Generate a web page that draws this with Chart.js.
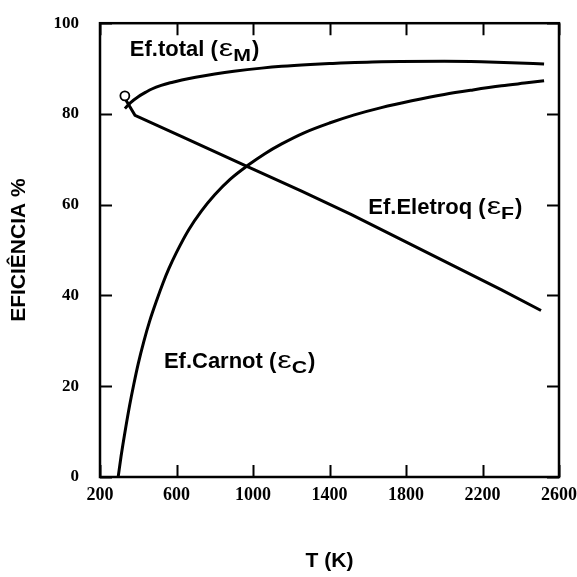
<!DOCTYPE html>
<html>
<head>
<meta charset="utf-8">
<script src="https://cdn.jsdelivr.net/npm/chart.js@4.4.1/dist/chart.umd.min.js"></script>
<style>
  html, body { margin: 0; padding: 0; background: #ffffff; }
  #c { display: block; width: 577px; height: 577px; }
</style>
</head>
<body>
<canvas id="c" width="577" height="577"></canvas>
<script>
// ---- data ----
const xTicks = [200, 600, 1000, 1400, 1800, 2200, 2600];
const yTicks = [0, 20, 40, 60, 80, 100];

const tTotal  = [330, 360, 400, 440, 471, 520, 580, 628, 700, 800, 900, 1045, 1150, 1300, 1400, 1671, 2000, 2193, 2350, 2522];
const efTotal = [81.2, 82.5, 83.8, 84.8, 85.5, 86.3, 87.0, 87.5, 88.1, 88.8, 89.4, 90.1, 90.5, 90.9, 91.1, 91.5, 91.6, 91.5, 91.3, 91.0];

const tEletroq  = [336, 383, 628, 977, 1254, 1515, 2297, 2506];
const efEletroq = [83.0, 79.7, 75.0, 68.3, 63.0, 57.8, 41.3, 36.7];

const tCarnot  = [295, 310, 335, 355, 377, 400, 430, 460, 497, 530, 560, 600, 664, 730, 800, 880, 977, 1060, 1150, 1270, 1400, 1530, 1671, 1830, 2000, 2150, 2300, 2420, 2522];
const efCarnot = [0, 4.5, 11.0, 15.8, 20.5, 25.0, 30.0, 34.4, 39.0, 42.8, 45.9, 49.5, 54.5, 58.6, 62.2, 65.6, 68.8, 71.2, 73.4, 75.9, 78.0, 79.8, 81.4, 82.9, 84.3, 85.3, 86.2, 86.8, 87.3];

const markerT  = [330];
const markerEf = [84.0];

const labelMain = ['Ef.total (', 'Ef.Eletroq (', 'Ef.Carnot ('];
const labelSub  = ['M', 'F', 'C'];
const labelT    = [356, 1603, 534];
const labelEf   = [92.8, 57.9, 24.0];

const xTitle = 'T (K)';
const yTitle = 'EFICIÊNCIA %';

// ---- helpers ----
const pts = (xs, ys) => xs.map((x, i) => ({ x: x, y: ys[i] }));
const SANS = '"Liberation Sans", Arial, Helvetica, sans-serif';
const SERIF = '"Liberation Serif", "Times New Roman", serif';

function stretchText(ctx, txt, x, y, sx) {
  ctx.save();
  ctx.translate(x, y);
  ctx.scale(sx, 1);
  ctx.fillText(txt, 0, 0);
  const w = ctx.measureText(txt).width * sx;
  ctx.restore();
  return w;
}

const framePlugin = {
  id: 'frame',
  afterDatasetsDraw(chart) {
    const ctx = chart.ctx;
    const a = chart.chartArea;
    const xs = chart.scales.x, ys = chart.scales.y;
    const tl = 12;
    ctx.save();
    ctx.strokeStyle = '#000';
    ctx.lineWidth = 2.5;
    ctx.lineCap = 'butt';
    ctx.strokeRect(a.left, a.top, a.right - a.left, a.bottom - a.top);
    ctx.lineWidth = 2;
    ctx.beginPath();
    xTicks.forEach(v => {
      const px = Math.round(xs.getPixelForValue(v)) + 0.5;
      ctx.moveTo(px, a.bottom); ctx.lineTo(px, a.bottom - tl);
      ctx.moveTo(px, a.top); ctx.lineTo(px, a.top + tl);
    });
    yTicks.forEach(v => {
      const py = Math.round(ys.getPixelForValue(v)) + 0.5;
      ctx.moveTo(a.left, py); ctx.lineTo(a.left + tl, py);
      ctx.moveTo(a.right, py); ctx.lineTo(a.right - tl, py);
    });
    ctx.stroke();

    // curve labels
    ctx.fillStyle = '#000';
    ctx.textBaseline = 'alphabetic';
    ctx.textAlign = 'left';
    labelMain.forEach((txt, i) => {
      let x = xs.getPixelForValue(labelT[i]);
      const y = ys.getPixelForValue(labelEf[i]);
      ctx.font = 'bold 22px ' + SANS;
      ctx.fillText(txt, x, y);
      x += ctx.measureText(txt).width + 1;
      ctx.font = '24px ' + SANS;
      x += stretchText(ctx, 'ε', x, y, 1.35);
      ctx.font = 'bold 17px ' + SANS;
      x += stretchText(ctx, labelSub[i], x, y + 5, 1.25) + 1;
      ctx.font = 'bold 22px ' + SANS;
      ctx.fillText(')', x, y);
    });
    ctx.restore();
  }
};

const lineBase = {
  borderColor: '#000',
  backgroundColor: '#000',
  borderWidth: 3,
  pointRadius: 0,
  fill: false,
  showLine: true
};

new Chart(document.getElementById('c'), {
  type: 'scatter',
  data: {
    datasets: [
      Object.assign({ label: 'Ef.total', data: pts(tTotal, efTotal), cubicInterpolationMode: 'monotone' }, lineBase),
      Object.assign({ label: 'Ef.Eletroq', data: pts(tEletroq, efEletroq), tension: 0 }, lineBase),
      Object.assign({ label: 'Ef.Carnot', data: pts(tCarnot, efCarnot), cubicInterpolationMode: 'monotone' }, lineBase),
      { label: 'ponto', data: pts(markerT, markerEf), showLine: false, pointRadius: 4.5,
        pointBorderWidth: 1.8, pointBorderColor: '#000', pointBackgroundColor: '#fff' },
      { label: 'ponto centro', data: pts(markerT, markerEf), showLine: false, pointRadius: 1.5,
        pointBorderWidth: 0, pointBackgroundColor: '#000' }
    ]
  },
  options: {
    responsive: false,
    animation: false,
    devicePixelRatio: 1,
    layout: { padding: { top: 20, right: 17, bottom: 0, left: 0 } },
    plugins: { legend: { display: false }, tooltip: { enabled: false } },
    scales: {
      x: {
        type: 'linear', min: 200, max: 2600,
        afterBuildTicks: s => { s.ticks = xTicks.map(v => ({ value: v })); },
        afterFit: s => { s.height = 100; },
        grid: { display: false },
        border: { display: false },
        ticks: { color: '#000', padding: 0, maxRotation: 0, autoSkip: false,
                 callback: v => String(v),
                 font: { family: SERIF, size: 18, weight: 'bold' } },
        title: { display: true, text: xTitle, color: '#000',
                 font: { family: SANS, size: 21, weight: 'bold' }, padding: { top: 0, bottom: 3 } }
      },
      y: {
        type: 'linear', min: 0, max: 100,
        afterBuildTicks: s => { s.ticks = yTicks.map(v => ({ value: v })); },
        afterFit: s => { s.width = 100; },
        grid: { display: false },
        border: { display: false },
        ticks: { color: '#000', padding: 13, callback: v => String(v),
                 font: { family: SERIF, size: 17, weight: 'bold' } },
        title: { display: true, text: yTitle, color: '#000',
                 font: { family: SANS, size: 21, weight: 'bold' }, padding: { top: 7, bottom: 0 } }
      }
    }
  },
  plugins: [framePlugin]
});
</script>
</body>
</html>
